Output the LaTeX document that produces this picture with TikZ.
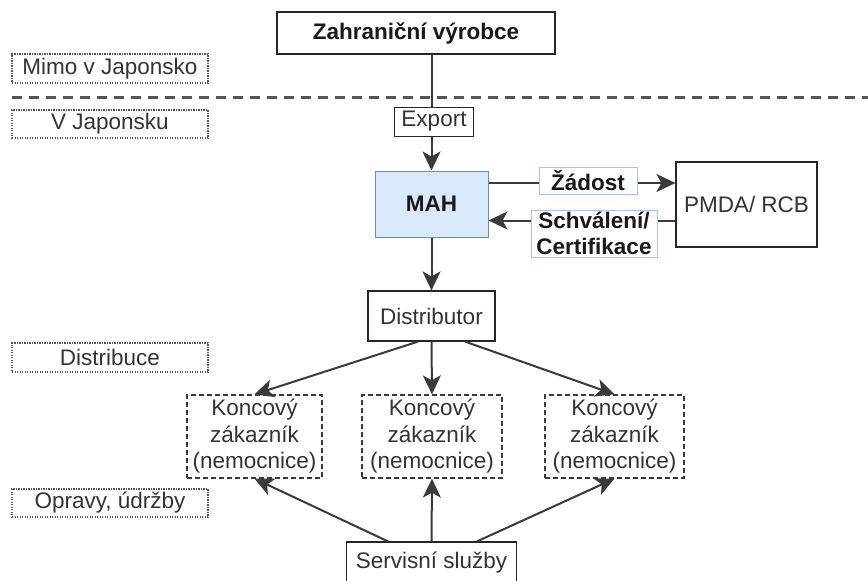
\documentclass[tikz,border=0pt]{standalone}
\usepackage{fontspec}
\setmainfont{Liberation Sans}
\usetikzlibrary{arrows.meta}
\definecolor{txt}{HTML}{333333}
\definecolor{ln}{HTML}{3A3A3A}
\definecolor{mahfill}{HTML}{DAE8FC}
\definecolor{mahline}{HTML}{6C8EBF}
\definecolor{lblline}{HTML}{A9C4EB}
\definecolor{dotc}{HTML}{555555}
\tikzset{
  every node/.style={font=\fontsize{22.5}{26.5}\selectfont, text=txt, inner sep=0pt, align=center},
  box/.style={draw=black!85, line width=1.2pt, fill=white},
  bbox/.style={box, font=\fontsize{22.5}{26.5}\selectfont\bfseries, text=black!90},
  mahbox/.style={draw=mahline, line width=1pt, fill=mahfill, font=\fontsize{22.5}{26.5}\selectfont\bfseries, text=black!90},
  lbl/.style={draw=lblline, line width=1pt, fill=white, font=\fontsize{22.5}{26.5}\selectfont\bfseries, text=black!90},
  zone/.style={draw=dotc, line width=1.2pt, dash pattern=on 1.2pt off 1.3pt, minimum width=196pt},
  cust/.style={draw=ln, line width=1.3pt, dash pattern=on 5pt off 3pt, fill=white},
  conn/.style={draw=ln, line width=2pt},
  arr/.style={conn, -{Stealth[length=19pt,width=18pt,inset=5pt]}},
}
\begin{document}
\begin{tikzpicture}[x=1pt,y=-1pt]
\useasboundingbox (0,0) rectangle (868,581);
% separator
\coordinate (sepL) at (12,97);
\coordinate (sepR) at (868,97);
\draw[draw=dotc, line width=3pt, dash pattern=on 10pt off 7pt] (sepL) -- (sepR);
% zone labels
\node[zone, minimum height=29pt] (mimo) at (110,68.5) {Mimo v Japonsko};
\node[zone, minimum height=28pt] (vjap) at (110,124) {V Japonsku};
\node[zone, minimum height=29pt] (distr) at (110,357.5) {Distribuce};
\node[zone, minimum height=28pt] (oprav) at (110,503) {Opravy, údržby};
% main nodes
\node[bbox, minimum width=278pt, minimum height=42pt] (zv) at (416,33) {Zahraniční výrobce};
\node[box, line width=1pt, minimum width=79pt, minimum height=29pt] (export) at (434,121.5) {Export};
\node[mahbox, minimum width=113pt, minimum height=66pt] (mah) at (431.5,204) {MAH};
\node[box, minimum width=141pt, minimum height=85pt] (pmda) at (746.5,204.5) {PMDA/ RCB};
\node[box, minimum width=127pt, minimum height=50pt] (dist) at (431.5,316) {Distributor};
\node[cust, minimum width=135pt, minimum height=83pt] (k1) at (254.5,436.5) {Koncový\\zákazník\\(nemocnice)};
\node[cust, minimum width=140pt, minimum height=83pt] (k2) at (432,436.5) {Koncový\\zákazník\\(nemocnice)};
\node[cust, minimum width=139pt, minimum height=83pt] (k3) at (614.5,436.5) {Koncový\\zákazník\\(nemocnice)};
\node[box, minimum width=170pt, minimum height=42pt] (serv) at (431.5,563) {Servisní služby};
% connectors
\draw[conn] (mah.north |- zv.south) -- (mah.north |- export.north);
\draw[arr] (mah.north |- export.south) -- (mah.north);
\draw[arr] ([yshift=21pt]mah.east) -- ([yshift=21pt]mah.east -| pmda.west);
\draw[arr] ([yshift=-16pt]pmda.west) -- ([yshift=-16pt]pmda.west -| mah.east);
\node[lbl, minimum width=98pt, minimum height=27pt] (zad) at (588,180.5) {Žádost};
\node[lbl, minimum width=126pt, minimum height=47pt] (schv) at (594,233.5) {Schválení/\\Certifikace};
\draw[arr] (mah.south) -- (dist.north);
\draw[arr] ([xshift=-13.5pt]dist.south) -- (k1.north);
\draw[arr] (dist.south) -- (k2.north);
\draw[arr] ([xshift=33.5pt]dist.south) -- (k3.north);
\draw[arr] ([xshift=-43.5pt]serv.north) -- (k1.south);
\draw[arr] (serv.north) -- (k2.south);
\draw[arr] ([xshift=45.5pt]serv.north) -- (k3.south);
\end{tikzpicture}
\end{document}
